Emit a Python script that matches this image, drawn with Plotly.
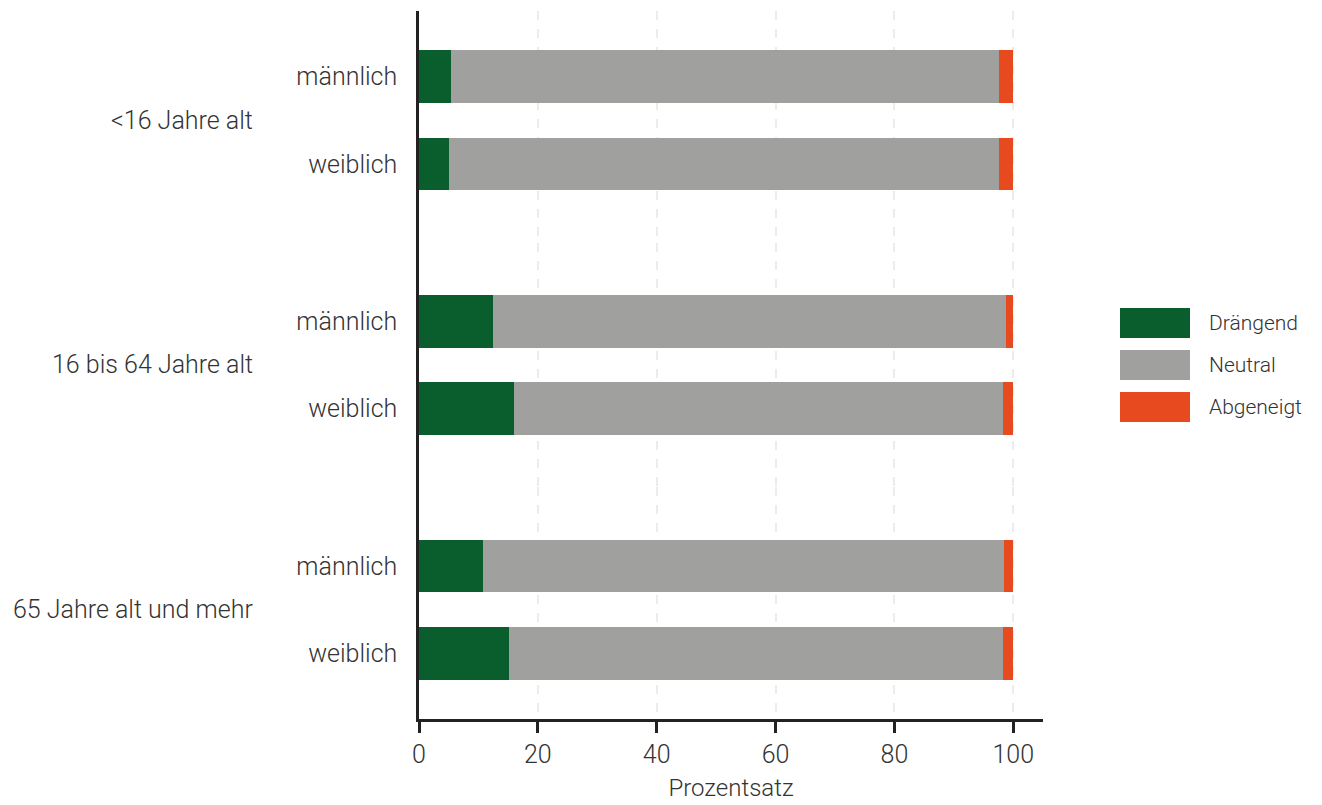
import plotly.graph_objects as go
from plotly.subplots import make_subplots

# ---- data ----
groups = ["<16 Jahre alt", "16 bis 64 Jahre alt", "65 Jahre alt und mehr"]
genders = ["männlich", "weiblich"]
draengend = [[5.3, 5.1], [12.5, 16.0], [10.7, 15.2]]
neutral = [[92.3, 92.5], [86.3, 82.3], [87.8, 83.0]]
abgeneigt = [[2.4, 2.4], [1.2, 1.7], [1.5, 1.8]]
series_names = ["Drängend", "Neutral", "Abgeneigt"]
x_ticks = [0, 20, 40, 60, 80, 100]
x_title = "Prozentsatz"

# ---- style ----
colors = ["#0a5e2e", "#a0a09f", "#e84a1f"]
FONT = "Roboto"
TXT = "#333333"
AX = "#222222"
OFF = 8  # page body margin
W, H = 1322, 805
L, T = 419 - OFF, 11 - OFF
R = W - (1043 - OFF)
B = H - (719 - OFF)
PW, PH = W - L - R, H - T - B


def px_x(px):
    return (px - OFF - L) / PW


def px_y(py):
    return (H - B - (py - OFF)) / PH


series = [draengend, neutral, abgeneigt]

fig = make_subplots(rows=3, cols=1, shared_xaxes=True, vertical_spacing=0,
                    row_heights=[2.65, 2.8, 2.65])

for gi, g in enumerate(groups):
    for si, name in enumerate(series_names):
        fig.add_trace(go.Bar(
            y=genders, x=series[si][gi], orientation="h", name=name,
            marker=dict(color=colors[si], line=dict(width=0)),
            legendgroup=name, showlegend=False,
            hovertemplate="%{y}: %{x}<extra>" + name + "</extra>",
        ), row=gi + 1, col=1)

y_ranges = [[1.9, -0.75], [1.9, -0.9], [1.75, -0.9]]
for gi in range(3):
    fig.update_yaxes(row=gi + 1, col=1, type="category", categoryorder="array",
                     categoryarray=genders, range=y_ranges[gi],
                     showline=True, linecolor=AX, linewidth=2.5,
                     ticks="", showgrid=False, zeroline=False,
                     ticklabelstandoff=14,
                     tickfont=dict(family=FONT, size=25, color=TXT, weight=300))
    last = gi == 2
    fig.update_xaxes(row=gi + 1, col=1, range=[0, 105], tickvals=x_ticks,
                     showgrid=True, gridcolor="#ececec", gridwidth=1.5, griddash="dash",
                     zeroline=False,
                     showline=last, linecolor=AX, linewidth=2.5,
                     ticks="outside" if last else "", ticklen=11, tickwidth=2.5, tickcolor=AX,
                     showticklabels=last,
                     tickfont=dict(family=FONT, size=25, color=TXT, weight=300))
fig.update_xaxes(row=3, col=1, title=dict(text=x_title, standoff=12,
                 font=dict(family=FONT, size=24, color=TXT, weight=300)))

# group labels
annotations = []
for gi, g in enumerate(groups):
    annotations.append(dict(text=g, xref="paper", x=px_x(255), xanchor="right",
                            yref="y" if gi == 0 else f"y{gi + 1}", y=0.5, yanchor="middle",
                            showarrow=False,
                            font=dict(family=FONT, size=25, color=TXT, weight=300)))

# custom legend
shapes = []
leg_centers = [323, 365, 407]
for si, name in enumerate(series_names):
    cy = leg_centers[si]
    shapes.append(dict(type="rect", xref="paper", yref="paper",
                       x0=px_x(1120), x1=px_x(1190),
                       y0=px_y(cy + 15), y1=px_y(cy - 15),
                       fillcolor=colors[si], line=dict(width=0)))
    annotations.append(dict(text=name, xref="paper", x=px_x(1207), xanchor="left",
                            yref="paper", y=px_y(cy), yanchor="middle",
                            showarrow=False,
                            font=dict(family=FONT, size=21, color=TXT, weight=300)))

fig.update_layout(
    width=W, height=H,
    margin=dict(l=L, r=R, t=T, b=B),
    barmode="stack", bargap=0.4,
    plot_bgcolor="white", paper_bgcolor="white",
    showlegend=False,
    annotations=annotations, shapes=shapes,
    font=dict(family=FONT, color=TXT),
)

fig.write_html("out.html")
